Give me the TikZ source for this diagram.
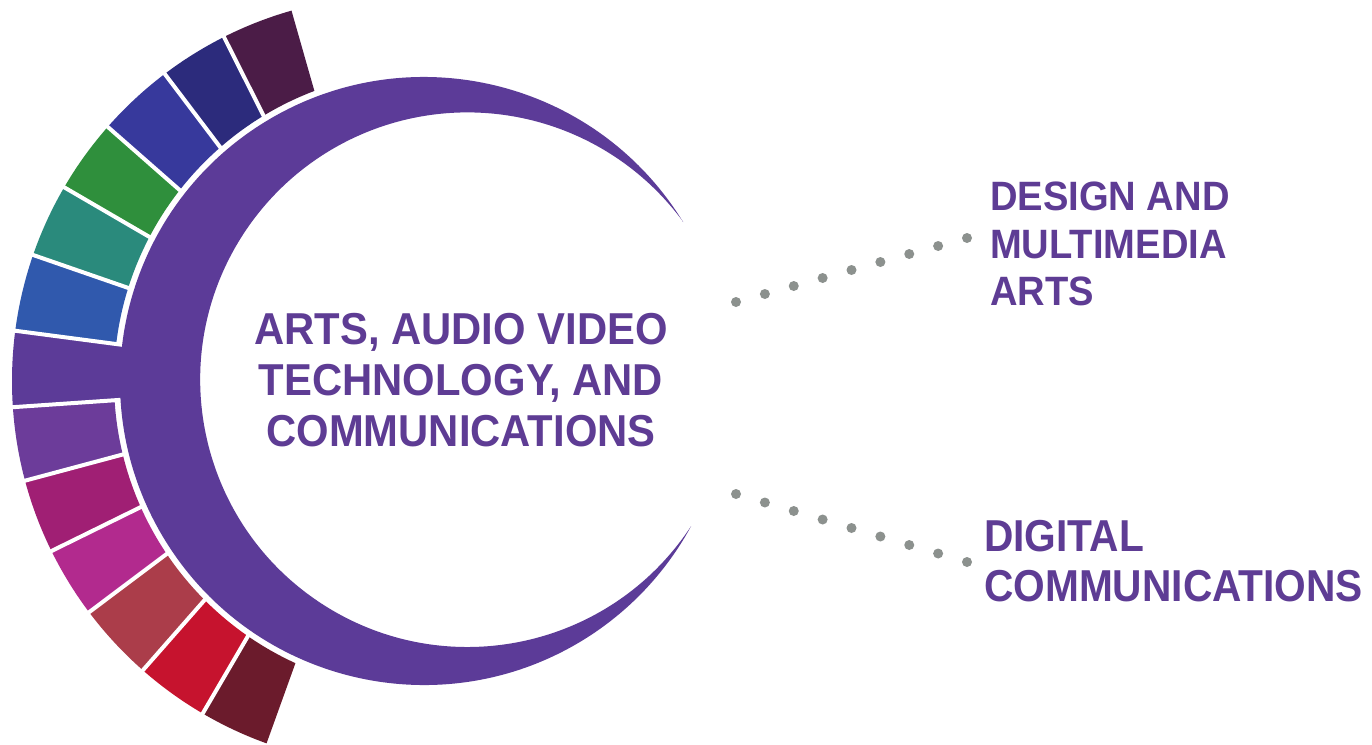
\documentclass[tikz,border=0pt]{standalone}
\usepackage{fontspec}
\setmainfont{Liberation Sans}
\newfontfamily\ctrfont{Liberation Sans}[FakeStretch=0.935]
\newfontfamily\lblfont{Liberation Sans}[FakeStretch=0.91]
\newfontfamily\lblfontA{Liberation Sans}[FakeStretch=0.93]
\usetikzlibrary{calc}
\definecolor{crescent}{HTML}{5C3B98}
\definecolor{txt}{HTML}{5E3C94}
\definecolor{dotc}{HTML}{8C918E}
\definecolor{sA}{HTML}{4B1C47}
\definecolor{sB}{HTML}{2C2B7C}
\definecolor{sC}{HTML}{37399C}
\definecolor{sD}{HTML}{2F8F3C}
\definecolor{sE}{HTML}{2A8A7C}
\definecolor{sF}{HTML}{3059AD}
\definecolor{sH}{HTML}{6C3C9A}
\definecolor{sI}{HTML}{A01F74}
\definecolor{sJ}{HTML}{B22A8E}
\definecolor{sK}{HTML}{AB3D4A}
\definecolor{sL}{HTML}{C6132E}
\definecolor{sM}{HTML}{6B1B2C}
\tikzset{
  ctr/.style={font=\ctrfont\bfseries\fontsize{44.7}{51}\selectfont, text=txt, align=center, inner sep=0pt},
  lblA/.style={font=\lblfontA\bfseries\fontsize{41}{47.5}\selectfont, text=txt, align=left, inner sep=0pt},
  lblB/.style={font=\lblfont\bfseries\fontsize{44.7}{50}\selectfont, text=txt, align=left, inner sep=0pt},
  gapline/.style={white, line width=4pt},
  dotmark/.style={fill=dotc}
}
\newcommand\segwedge[3]{%
  \begin{scope}
    \clip (C3) -- ($(C3)+(#1:600)$) -- ($(C3)+({(#1+#2)/2}:650)$) -- ($(C3)+(#2:600)$) -- cycle;
    \fill[#3, even odd rule] (C3) circle[radius=385pt] (C1) circle[radius=310pt];
  \end{scope}}
\begin{document}
\begin{tikzpicture}[x=1pt,y=-1pt]
\fill[white] (0,0) rectangle (1372,744);
\useasboundingbox (0,0) rectangle (1372,744);
\coordinate (C1) at (424,381);
\coordinate (C2) at (467.3,379.8);
\coordinate (C3) at (397,381);
% colour segments (angles: y axis is flipped)
\segwedge{-105.9}{-116.7}{sA}
\segwedge{-116.7}{-127.1}{sB}
\segwedge{-127.1}{-138.7}{sC}
\segwedge{-138.7}{-149.8}{sD}
\segwedge{-149.8}{-160.9}{sE}
\segwedge{-160.9}{-172.5}{sF}
\segwedge{-183.9}{-195.0}{sH}
\segwedge{-195.0}{-206.2}{sI}
\segwedge{-206.2}{-216.9}{sJ}
\segwedge{-216.9}{-228.7}{sK}
\segwedge{-228.7}{-239.7}{sL}
\segwedge{-239.7}{-250.2}{sM}
% purple stem joined to the crescent
\begin{scope}
  \clip (C3) -- ($(C3)+(-172.5:600)$) -- ($(C3)+(-178.2:650)$) -- ($(C3)+(-183.9:600)$) -- cycle;
  \fill[crescent, even odd rule] (C3) circle[radius=385pt] (C1) circle[radius=285pt];
\end{scope}
% white gaps between segments
\foreach \a in {116.7,127.1,138.7,149.8,160.9,172.5,183.9,195.0,206.2,216.9,228.7,239.7}
  \draw[gapline] ($(C3)+(-\a:262)$) -- ($(C3)+(-\a:395)$);
% crescent
\fill[crescent] ($(C1)+(-31.5:304)$) arc[start angle=31.5, end angle=331.5, radius=304pt]
  arc[start angle=-33.2, end angle=-323.8, radius=267.3pt] -- cycle;
% texts
\node[ctr, anchor=north] (main) at (461,313) {ARTS, AUDIO VIDEO\\TECHNOLOGY, AND\\COMMUNICATIONS};
\node[lblA, anchor=north west] (dma) at (990,182) {DESIGN AND\\MULTIMEDIA\\ARTS};
\node[lblB, anchor=north west] (dc) at (984,520) {DIGITAL\\COMMUNICATIONS};
% dotted connectors
\coordinate (u1) at (736,302);
\coordinate (u2) at (967,238);
\coordinate (l1) at (736,494);
\coordinate (l2) at (967,562);
\foreach \i in {0,...,8} {
  \fill[dotmark] ($(u1)!\i/8!(u2)$) circle[radius=5pt];
  \fill[dotmark] ($(l1)!\i/8!(l2)$) circle[radius=5pt];
}
\end{tikzpicture}
\end{document}
